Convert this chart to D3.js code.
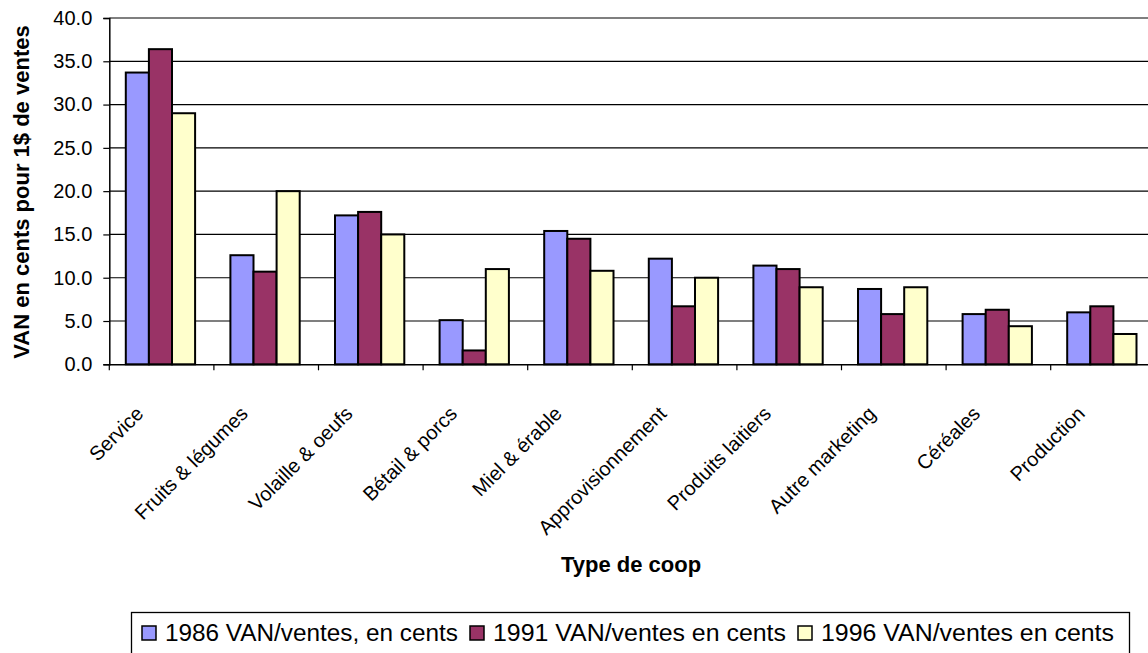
<!DOCTYPE html>
<html>
<head>
  <meta charset="utf-8">
  <script src="https://unpkg.com/d3@7/dist/d3.min.js"></script>
  <style>
    body { margin: 0; background: #fff; }
    text { font-family: "Liberation Sans", Arial, sans-serif; fill: #000; }
  </style>
</head>
<body>
<div id="chart"></div>
<script>
  // data
  var categories = ["Service", "Fruits & légumes", "Volaille & oeufs", "Bétail & porcs",
    "Miel & érable", "Approvisionnement", "Produits laitiers", "Autre marketing",
    "Céréales", "Production"];
  var seriesNames = ["1986 VAN/ventes, en cents", "1991 VAN/ventes en cents", "1996 VAN/ventes en cents"];
  var v1986 = [33.7, 12.6, 17.2, 5.1, 15.4, 12.2, 11.4, 8.7, 5.8, 6.0];
  var v1991 = [36.4, 10.7, 17.6, 1.6, 14.5, 6.7, 11.0, 5.8, 6.3, 6.7];
  var v1996 = [29.0, 20.0, 15.0, 11.0, 10.8, 10.0, 8.9, 8.9, 4.4, 3.5];
  var yTicks = [0, 5, 10, 15, 20, 25, 30, 35, 40];
  var colors = ["#9999ff", "#993366", "#ffffcc"];

  var width = 1148, height = 653;
  var plotLeft = 109.3, plotRight = 1155.3, plotTop = 18, plotBottom = 364.3;

  var svg = d3.select("#chart").append("svg")
    .attr("width", width).attr("height", height);

  var x0 = d3.scaleBand().domain(categories).range([plotLeft, plotRight]).padding(0);
  var x1 = d3.scaleBand().domain(seriesNames).range([16.5, 85.8]).padding(0);
  var y = d3.scaleLinear().domain([0, 40]).range([plotBottom, plotTop]);

  // gridlines
  svg.append("g").selectAll("line")
    .data(yTicks.filter(function(d) { return d > 0; }))
    .enter().append("line")
    .attr("x1", plotLeft).attr("x2", plotRight)
    .attr("y1", function(d) { return y(d); })
    .attr("y2", function(d) { return y(d); })
    .attr("stroke", "#000").attr("stroke-width", 1.2);

  // bars
  var rows = categories.map(function(c, i) {
    return { cat: c, vals: [v1986[i], v1991[i], v1996[i]] };
  });
  var groups = svg.append("g").selectAll("g")
    .data(rows).enter().append("g")
    .attr("transform", function(d) { return "translate(" + x0(d.cat) + ",0)"; });
  groups.selectAll("rect")
    .data(function(d) { return d.vals.map(function(v, j) { return { s: seriesNames[j], v: v, j: j }; }); })
    .enter().append("rect")
    .attr("x", function(d) { return x1(d.s); })
    .attr("width", x1.bandwidth())
    .attr("y", function(d) { return y(d.v); })
    .attr("height", function(d) { return plotBottom - y(d.v); })
    .attr("fill", function(d) { return colors[d.j]; })
    .attr("stroke", "#000").attr("stroke-width", 2);

  // y axis
  var yAxis = svg.append("g")
    .attr("transform", "translate(" + plotLeft + ",0)")
    .call(d3.axisLeft(y).tickValues(yTicks).tickFormat(d3.format(".1f")).tickSize(6).tickPadding(11));
  yAxis.select(".domain").attr("stroke", "#000").attr("stroke-width", 1.5);
  yAxis.selectAll(".tick line").attr("stroke", "#000").attr("stroke-width", 1.2);
  yAxis.selectAll("text").style("font-size", "20px").style("font-family", "'Liberation Sans', Arial, sans-serif");

  // x axis
  var xAxis = svg.append("g")
    .attr("transform", "translate(0," + plotBottom + ")")
    .call(d3.axisBottom(x0).tickSize(0).tickFormat(""));
  xAxis.select(".domain").attr("stroke", "#000").attr("stroke-width", 1.5);
  xAxis.selectAll(".tick").remove();
  var bounds = categories.map(function(c) { return x0(c); });
  svg.append("g").selectAll("line")
    .data(bounds).enter().append("line")
    .attr("x1", function(d) { return d; }).attr("x2", function(d) { return d; })
    .attr("y1", plotBottom).attr("y2", plotBottom + 6)
    .attr("stroke", "#000").attr("stroke-width", 1.2);

  // category labels, rotated
  svg.append("g").selectAll("text")
    .data(categories).enter().append("text")
    .attr("transform", function(d) {
      var cx = x0(d) + x0.bandwidth() / 2;
      return "translate(" + (cx - 17) + ",415) rotate(-45)";
    })
    .attr("text-anchor", "end")
    .style("font-size", "20px")
    .text(function(d) { return d; });

  // axis titles
  svg.append("text")
    .attr("x", 631).attr("y", 572)
    .attr("text-anchor", "middle")
    .style("font-size", "22px").style("font-weight", "bold")
    .text("Type de coop");
  svg.append("text")
    .attr("transform", "translate(29,192) rotate(-90)")
    .attr("text-anchor", "middle")
    .style("font-size", "22px").style("font-weight", "bold")
    .text("VAN en cents pour 1$ de ventes");

  // legend
  var legend = svg.append("g");
  legend.append("rect")
    .attr("x", 131.5).attr("y", 612.5).attr("width", 998).attr("height", 60)
    .attr("fill", "#fff").attr("stroke", "#000").attr("stroke-width", 1.3);
  var lx = 142;
  seriesNames.forEach(function(name, i) {
    legend.append("rect")
      .attr("x", lx).attr("y", 626).attr("width", 14).attr("height", 14)
      .attr("fill", colors[i]).attr("stroke", "#000").attr("stroke-width", 1.5);
    legend.append("text")
      .attr("x", lx + 23).attr("y", 641)
      .attr("textLength", 293).attr("lengthAdjust", "spacingAndGlyphs")
      .style("font-size", "23px")
      .text(name);
    lx = lx + 23 + 293 + 12;
  });
</script>
</body>
</html>
